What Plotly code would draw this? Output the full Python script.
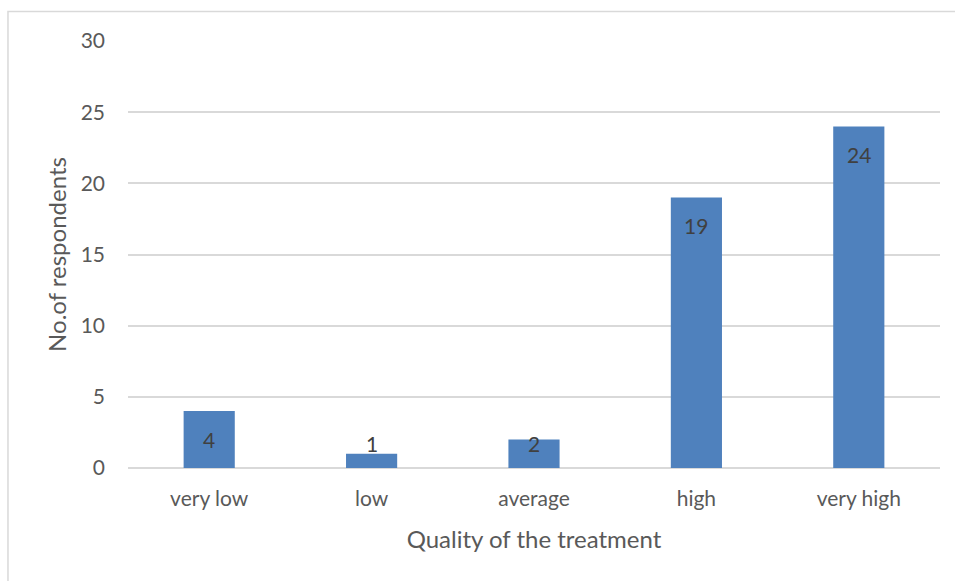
import plotly.graph_objects as go

# Survey responses: perceived quality of the treatment
categories = ["very low", "low", "average", "high", "very high"]
respondents = [4, 1, 2, 19, 24]
y_ticks = [0, 5, 10, 15, 20, 25, 30]

BAR_COLOR = "#4F81BD"
GRID = "#D9D9D9"
TICK_TEXT = "#595959"
LABEL_TEXT = "#404040"
FONT = "Lato"

fig = go.Figure()
fig.add_trace(go.Bar(
    x=categories,
    y=respondents,
    marker=dict(color=BAR_COLOR, line=dict(width=0)),
    width=0.315,
    hoverinfo="x+y",
))

# Value labels sit just inside the bar end; short bars keep the label near the baseline
for cat, val in zip(categories, respondents):
    fig.add_annotation(
        x=cat, y=max(val - 1.97, 1.75),
        text=str(val), showarrow=False,
        xanchor="center", yanchor="middle",
        font=dict(family=FONT, size=21, color=LABEL_TEXT),
    )

# Light frame around the chart area
fig.add_shape(
    type="rect", xref="paper", yref="paper",
    x0=-0.1478, x1=1.2, y0=-0.5, y1=1.0691,
    line=dict(color=GRID, width=1.5), fillcolor="rgba(0,0,0,0)",
    layer="below",
)

fig.update_layout(
    width=955, height=581,
    margin=dict(l=128, r=15, t=41, b=113),
    paper_bgcolor="white", plot_bgcolor="white",
    showlegend=False,
    font=dict(family=FONT, color=TICK_TEXT),
    xaxis=dict(
        title=dict(text="Quality of the treatment", font=dict(size=24, color=TICK_TEXT), standoff=22),
        tickfont=dict(size=21, color=TICK_TEXT),
        showgrid=False, showline=False, zeroline=False,
        ticks="", ticklabelstandoff=16,
    ),
    yaxis=dict(
        title=dict(text="No.of respondents", font=dict(size=24, color=TICK_TEXT), standoff=7),
        range=[0, 30],
        tickvals=y_ticks,
        tickfont=dict(size=21, color=TICK_TEXT),
        showgrid=True, gridcolor=GRID, gridwidth=1.5,
        zeroline=True, zerolinecolor=GRID, zerolinewidth=1.5,
        showline=False, ticks="", ticklabelstandoff=22,
    ),
)

fig.write_html("out.html")
